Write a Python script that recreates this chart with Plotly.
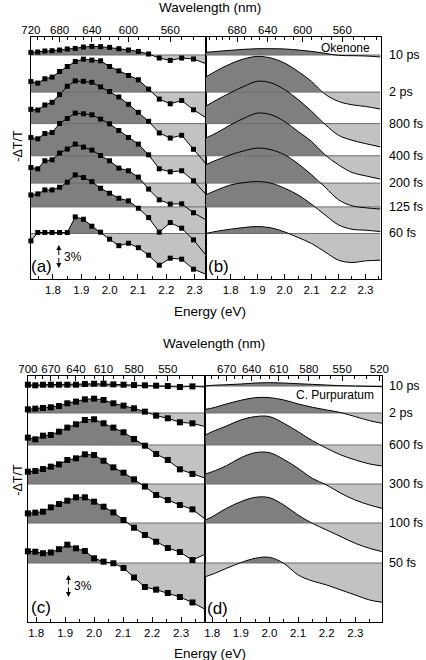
import plotly.graph_objects as go

EV_NM = 1239.84

# ---------------- Okenone (top row) ----------------
wl_a = [720, 710, 700, 690, 680, 670, 660, 650, 640, 630,
        620, 610, 600, 590, 580, 570, 560, 550, 540, 530]
labels_top = ["10 ps", "2 ps", "800 fs", "400 fs", "200 fs", "125 fs", "60 fs"]
offsets_top = [32.0, 26.7, 22.2, 17.6, 13.7, 10.3, 6.5]

a_10ps = [0.37, 0.43, 0.57, 0.61, 0.71, 0.86, 0.94, 1.14, 1.23, 1.19, 1.09, 0.90, 0.71, 0.51, 0.14, -0.43, -0.77, -0.43, -0.57, -1.24]
a_2ps = [1.51, 1.29, 1.90, 2.14, 2.94, 3.66, 4.37, 4.71, 4.57, 4.47, 3.66, 3.04, 2.37, 1.76, 0.43, -1.00, -1.67, -1.20, -2.53, -3.63]
a_800fs = [2.04, 1.94, 2.66, 3.04, 4.14, 5.33, 6.10, 6.04, 5.90, 5.24, 4.57, 3.80, 2.76, 1.61, 0.33, -1.34, -2.06, -1.67, -3.67, -5.71]
a_400fs = [2.61, 2.43, 3.19, 3.33, 4.61, 5.33, 6.10, 6.00, 5.86, 5.24, 4.57, 3.61, 2.61, 1.67, 0.14, -1.86, -2.29, -2.14, -3.57, -5.47]
a_200fs = [2.23, 2.04, 3.19, 3.33, 4.29, 4.86, 5.57, 5.14, 4.71, 3.94, 3.19, 2.14, 1.76, 0.86, -0.86, -2.39, -3.00, -2.96, -4.24, -5.24]
a_125fs = [1.71, 1.86, 2.43, 2.43, 2.81, 3.53, 4.57, 4.19, 3.61, 2.67, 1.96, 1.24, 0.86, -0.19, -1.53, -3.61, -2.24, -3.04, -4.71, -6.86]
a_60fs = [-1.06, 0.14, 0.14, 0.14, 0.14, 0.14, 2.37, 2.04, 1.04, 0.19, -0.81, -1.74, -1.39, -2.03, -3.10, -4.53, -3.53, -3.67, -5.10, -5.81]

e_b = [1.707, 1.75, 1.80, 1.85, 1.90, 1.95, 2.00, 2.05, 2.10, 2.15, 2.20, 2.25, 2.30, 2.356]
b_10ps = [0.38, 0.52, 0.67, 0.81, 0.90, 0.90, 0.86, 0.71, 0.52, 0.24, -0.05, -0.10, -0.14, -0.29]
b_2ps = [2.14, 3.10, 4.05, 4.76, 5.10, 4.86, 4.14, 2.95, 1.52, -0.29, -1.33, -1.81, -2.05, -2.43]
b_800fs = [2.48, 3.43, 4.43, 5.33, 6.05, 5.81, 4.86, 3.43, 1.76, -0.10, -1.67, -2.38, -2.86, -3.33]
b_400fs = [2.52, 3.33, 4.43, 5.38, 6.10, 5.86, 4.90, 3.48, 2.05, 0.14, -1.29, -2.38, -2.86, -3.33]
b_200fs = [2.62, 3.33, 4.05, 4.62, 5.00, 4.76, 4.05, 2.76, 1.19, -0.57, -2.38, -3.24, -3.52, -3.71]
b_125fs = [1.71, 2.43, 3.14, 3.48, 3.62, 3.38, 2.67, 1.71, 0.38, -1.14, -2.57, -3.19, -3.33, -3.52]
b_60fs = [0.00, 0.33, 0.62, 0.86, 1.00, 0.80, 0.23, -0.57, -1.43, -2.63, -3.81, -4.14, -3.91, -3.81]

# ---------------- C. Purpuratum (bottom row) ----------------
wl_c = [700, 690, 680, 670, 660, 650, 640, 630, 620, 610,
        600, 590, 580, 570, 560, 550, 540, 530, 520]
labels_bot = ["10 ps", "2 ps", "600 fs", "300 fs", "100 fs", "50 fs"]
offsets_bot = [33.71, 29.86, 25.29, 19.71, 14.14, 8.43]

c_10ps = [0.19, 0.10, 0.19, 0.19, 0.19, 0.19, 0.19, 0.29, 0.33, 0.33, 0.24, 0.19, 0.14, 0.10, 0.05, 0.00, -0.14, -0.05, -0.14]
c_2ps = [0.52, 0.62, 0.71, 0.81, 1.00, 1.38, 1.62, 1.95, 2.05, 1.86, 1.38, 1.05, 0.67, 0.19, -0.38, -0.76, -1.33, -1.48, -1.95]
c_600fs = [1.05, 0.81, 1.33, 1.43, 1.90, 2.48, 2.95, 3.57, 3.67, 3.10, 2.48, 1.81, 0.86, -0.10, -1.29, -2.14, -3.48, -4.14, -4.76]
c_300fs = [1.76, 1.86, 2.14, 2.48, 2.81, 3.43, 3.67, 4.24, 4.14, 3.33, 2.38, 1.62, 0.67, -0.36, -1.57, -2.29, -3.00, -3.62, -5.05]
c_100fs = [1.38, 1.48, 1.62, 2.24, 2.71, 3.19, 3.67, 3.67, 3.05, 2.33, 1.52, 0.43, -0.67, -1.71, -2.67, -3.57, -4.14, -5.29, -4.43]
c_50fs = [1.67, 1.61, 1.39, 1.50, 1.97, 2.61, 2.10, 1.71, 0.67, 0.19, -0.04, -0.71, -2.07, -3.43, -3.81, -4.29, -4.86, -5.64, -6.64]

e_d = [1.776, 1.80, 1.85, 1.90, 1.95, 2.00, 2.05, 2.10, 2.15, 2.20, 2.25, 2.30, 2.35, 2.395]
d_10ps = [0.00, 0.10, 0.19, 0.29, 0.43, 0.48, 0.43, 0.33, 0.24, 0.14, 0.05, 0.00, -0.05, -0.10]
d_2ps = [0.52, 0.71, 1.29, 1.81, 2.19, 2.19, 1.86, 1.29, 0.81, 0.43, 0.05, -0.52, -1.10, -1.48]
d_600fs = [1.43, 1.90, 2.71, 3.57, 4.05, 4.05, 3.10, 1.90, 0.62, -0.48, -1.43, -2.14, -2.71, -3.00]
d_300fs = [1.43, 1.76, 2.62, 3.76, 4.48, 4.48, 3.52, 2.24, 0.81, -0.14, -1.33, -2.29, -3.00, -3.48]
d_100fs = [0.43, 0.90, 2.10, 3.05, 3.67, 3.62, 2.57, 1.14, -0.05, -1.00, -1.95, -2.90, -3.62, -4.10]
d_50fs = [-1.95, -1.62, -0.76, 0.05, 0.67, 0.81, -0.05, -1.71, -2.57, -3.14, -3.86, -4.57, -5.29, -5.62]

# ---------------- axis ticks ----------------
energy_ticks = [1.8, 1.9, 2.0, 2.1, 2.2, 2.3]
energy_minor = [1.75, 1.85, 1.95, 2.05, 2.15, 2.25, 2.35]
wl_ticks_a = [720, 680, 640, 600, 560]
wl_ticks_b = [680, 640, 600, 560]
wl_minor_ab = [720, 710, 700, 690, 670, 660, 650, 630, 620, 610, 590, 580, 570, 550, 540, 530, 520]
wl_ticks_c = [700, 670, 640, 610, 580, 550]
wl_ticks_d = [670, 640, 610, 580, 550, 520]
wl_minor_cd = [690, 680, 660, 650, 630, 620, 600, 590, 570, 560, 540, 530, 510]

# ---------------- styling / layout helpers ----------------
W, H = 426, 660
FONT = "Liberation Sans, Arial, sans-serif"
DARK = "#7f7f7f"
LIGHT = "#c2c2c2"
BASE_COL = "#6e6e6e"


def fx(px):
    return px / W


def fy(py):
    return 1 - py / H


def split_sign(x, v):
    xs, vs = [x[0]], [v[0]]
    for i in range(1, len(x)):
        if (v[i - 1] > 0 > v[i]) or (v[i - 1] < 0 < v[i]):
            t = v[i - 1] / (v[i - 1] - v[i])
            xs.append(x[i - 1] + t * (x[i] - x[i - 1]))
            vs.append(0.0)
        xs.append(x[i])
        vs.append(v[i])
    return xs, [max(q, 0) for q in vs], [min(q, 0) for q in vs]


panels = [
    dict(xa="x", ya="y", xt="x5", x=[EV_NM / w for w in wl_a],
         series=[a_10ps, a_2ps, a_800fs, a_400fs, a_200fs, a_125fs, a_60fs],
         offsets=offsets_top, smooth=False, rng=[1.722, 2.339], yr=[0, 242 / 7],
         dx=(21.7, 203.3), dy=(37, 279), wt=wl_ticks_a, wm=wl_minor_ab),
    dict(xa="x2", ya="y2", xt="x6", x=e_b,
         series=[b_10ps, b_2ps, b_800fs, b_400fs, b_200fs, b_125fs, b_60fs],
         offsets=offsets_top, smooth=True, rng=[1.707, 2.356], yr=[0, 242 / 7],
         dx=(203.3, 385), dy=(37, 279), wt=wl_ticks_b, wm=wl_minor_ab),
    dict(xa="x3", ya="y3", xt="x7", x=[EV_NM / w for w in wl_c],
         series=[c_10ps, c_2ps, c_600fs, c_300fs, c_100fs, c_50fs],
         offsets=offsets_bot, smooth=False, rng=[1.771, 2.384], yr=[0, 246 / 7],
         dx=(18.5, 203), dy=(376, 622), wt=wl_ticks_c, wm=wl_minor_cd),
    dict(xa="x4", ya="y4", xt="x8", x=e_d,
         series=[d_10ps, d_2ps, d_600fs, d_300fs, d_100fs, d_50fs],
         offsets=offsets_bot, smooth=True, rng=[1.776, 2.395], yr=[0, 246 / 7],
         dx=(203, 387), dy=(376, 622), wt=wl_ticks_d, wm=wl_minor_cd),
]

fig = go.Figure()

for p in panels:
    shape = "spline" if p["smooth"] else "linear"
    # fills
    for v, base in zip(p["series"], p["offsets"]):
        xs, pos, neg = split_sign(p["x"], v)
        for part, col in ((pos, DARK), (neg, LIGHT)):
            fig.add_trace(go.Scatter(x=[xs[0], xs[-1]], y=[base, base], mode="lines",
                                     line=dict(width=0), xaxis=p["xa"], yaxis=p["ya"],
                                     hoverinfo="skip", showlegend=False))
            fig.add_trace(go.Scatter(x=xs, y=[base + q for q in part], mode="lines",
                                     line=dict(width=0, shape=shape), fill="tonexty",
                                     fillcolor=col, xaxis=p["xa"], yaxis=p["ya"],
                                     hoverinfo="skip", showlegend=False))
    # baselines
    for base in p["offsets"]:
        fig.add_trace(go.Scatter(x=p["rng"], y=[base, base], mode="lines",
                                 line=dict(width=1, color=BASE_COL),
                                 xaxis=p["xa"], yaxis=p["ya"], hoverinfo="skip",
                                 showlegend=False))
    # curves
    for v, base in zip(p["series"], p["offsets"]):
        if p["smooth"]:
            fig.add_trace(go.Scatter(x=p["x"], y=[base + q for q in v], mode="lines",
                                     line=dict(width=1, color="black", shape="spline", smoothing=1.0),
                                     xaxis=p["xa"], yaxis=p["ya"], showlegend=False))
        else:
            fig.add_trace(go.Scatter(x=p["x"], y=[base + q for q in v], mode="lines+markers",
                                     line=dict(width=1, color="black"),
                                     marker=dict(symbol="square", size=5 if p["xa"] == "x" else 6,
                                                 color="black"),
                                     cliponaxis=False,
                                     xaxis=p["xa"], yaxis=p["ya"], showlegend=False))
    # invisible trace so the wavelength axis is drawn
    fig.add_trace(go.Scatter(x=p["rng"], y=[p["yr"][0], p["yr"][0]], mode="markers",
                             marker=dict(opacity=0), xaxis=p["xt"], yaxis=p["ya"],
                             hoverinfo="skip", showlegend=False))

layout = dict(width=W, height=H, margin=dict(l=0, r=0, t=0, b=0),
              paper_bgcolor="white", plot_bgcolor="white", showlegend=False,
              font=dict(family=FONT, size=11.5, color="black"))

for i, p in enumerate(panels, start=1):
    xk = "xaxis" if i == 1 else f"xaxis{i}"
    yk = "yaxis" if i == 1 else f"yaxis{i}"
    tk = f"xaxis{i + 4}"
    layout[xk] = dict(domain=[fx(p["dx"][0]), fx(p["dx"][1])], anchor=p["ya"],
                      range=p["rng"], tickmode="array", tickvals=energy_ticks,
                      ticktext=[f"{t:.1f}" for t in energy_ticks],
                      ticks="inside", ticklen=5, tickcolor="black",
                      minor=dict(tickmode="array", tickvals=energy_minor, ticks="inside",
                                 ticklen=3, tickcolor="black"),
                      showline=True, linecolor="black", linewidth=1, mirror=True,
                      showgrid=False, zeroline=False,
                      tickfont=dict(family=FONT, size=11.5, color="black"))
    layout[yk] = dict(domain=[fy(p["dy"][1]), fy(p["dy"][0])], anchor=p["xa"],
                      range=p["yr"], showticklabels=False, ticks="",
                      showline=True, linecolor="black", linewidth=1, mirror=True,
                      showgrid=False, zeroline=False)
    layout[tk] = dict(overlaying=p["xa"], side="top", anchor=p["ya"], range=p["rng"],
                      tickmode="array", tickvals=[EV_NM / w for w in p["wt"]],
                      ticktext=[str(w) for w in p["wt"]],
                      ticks="inside", ticklen=5, tickcolor="black",
                      minor=dict(tickmode="array", tickvals=[EV_NM / w for w in p["wm"]],
                                 ticks="inside", ticklen=3, tickcolor="black"),
                      showline=False, showgrid=False, zeroline=False,
                      tickfont=dict(family=FONT, size=11.5, color="black"))

ann = []


def text(s, x, y, size, xanchor="center", yanchor="middle", angle=0, xref="paper", yref="paper"):
    ann.append(dict(text=s, x=x, y=y, xref=xref, yref=yref, showarrow=False,
                    xanchor=xanchor, yanchor=yanchor, textangle=angle,
                    font=dict(family=FONT, size=size, color="black")))


# titles
text("Wavelength (nm)", fx(208), fy(8), 13.5)
text("Wavelength (nm)", fx(212), fy(343), 13.5)
text("Energy (eV)", fx(208), fy(312), 13.5)
text("Energy (eV)", fx(208), fy(653), 13.5)
text("-ΔT/T", fx(8), fy(146), 12.5, angle=-90)
text("-ΔT/T", fx(8), fy(480), 12.5, angle=-90)
# panel letters
text("(a)", fx(33), fy(266), 17)
text("(b)", fx(217), fy(266), 17)
text("(c)", fx(32), fy(607), 17)
text("(d)", fx(216), fy(608), 17)
# sample names
text("Okenone", fx(376), fy(47.5), 12, xanchor="right")
text("C. Purpuratum", fx(380), fy(395), 12, xanchor="right")
# delay labels
for lab, off in zip(labels_top, offsets_top):
    text(lab, fx(392), off, 12.5, xanchor="left", yref="y2")
for lab, off in zip(labels_bot, offsets_bot):
    text(lab, fx(392), off, 12.5, xanchor="left", yref="y4")
# 3% scale bars
for (ax_x, top, bot, tx) in ((50.7, 245, 268, 54), (60.7, 575, 597, 64.5)):
    mid = (top + bot) / 2
    half = (bot - top) / 2
    for yy, ay in ((top, half), (bot, -half)):
        ann.append(dict(x=fx(ax_x), y=fy(yy), xref="paper", yref="paper", text="",
                        showarrow=True, arrowhead=2, arrowsize=1, arrowwidth=1,
                        arrowcolor="black", ax=0, ay=ay))
    text("3%", fx(tx), fy(mid), 12, xanchor="left")

layout["annotations"] = ann
fig.update_layout(**layout)
fig.write_html("out.html", config={"displayModeBar": False, "staticPlot": True},
               post_script="document.body.style.margin='0';document.body.style.overflow='hidden';")
